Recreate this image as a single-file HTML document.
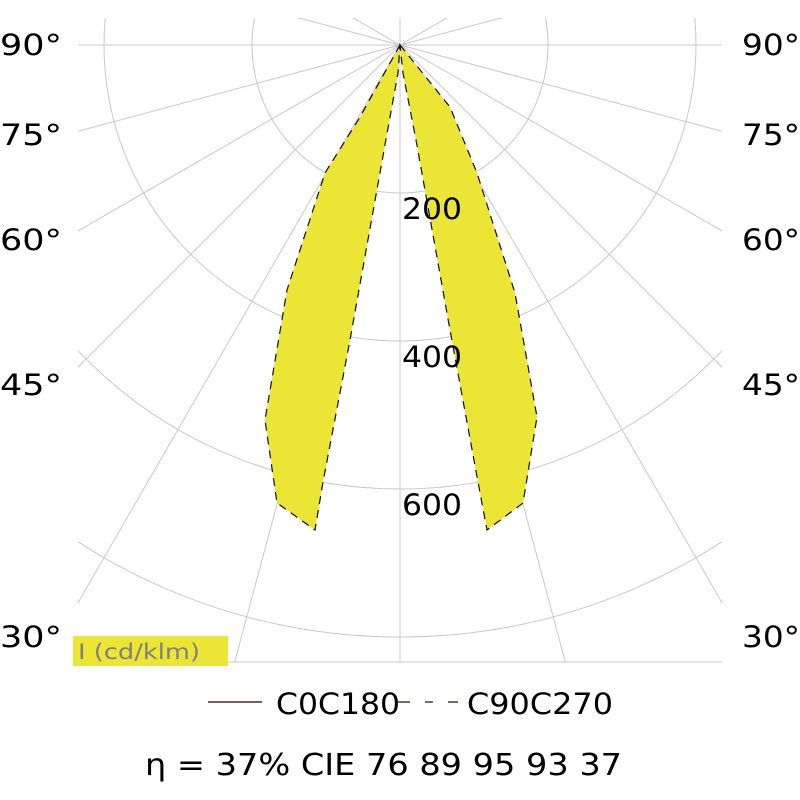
<!DOCTYPE html>
<html><head><meta charset="utf-8"><style>
html,body{margin:0;padding:0;background:#fff;width:800px;height:800px;overflow:hidden}
svg{display:block}
svg text{font-family:"DejaVu Sans","Liberation Sans",sans-serif}
</style></head><body>
<svg width="800" height="800" viewBox="0 0 800 800">
<defs><clipPath id="c"><rect x="78" y="18" width="644" height="644"/></clipPath></defs>
<g clip-path="url(#c)" stroke="#c8c8c8" stroke-width="1" fill="none">
<circle cx="400" cy="45" r="148"/>
<circle cx="400" cy="45" r="296"/>
<circle cx="400" cy="45" r="444"/>
<circle cx="400" cy="45" r="592"/>
<circle cx="400" cy="45" r="740"/>
<g id="rl">
<line x1="400" y1="45" x2="400" y2="945"/>
<line x1="400" y1="45" x2="632.9" y2="914.3"/>
<line x1="400" y1="45" x2="850" y2="824.4"/>
<line x1="400" y1="45" x2="1036.4" y2="681.4"/>
<line x1="400" y1="45" x2="1179.4" y2="495"/>
<line x1="400" y1="45" x2="1269.3" y2="277.9"/>
<line x1="400" y1="45" x2="1300" y2="45"/>
<line x1="400" y1="45" x2="1269.3" y2="-187.9"/>
<line x1="400" y1="45" x2="1179.4" y2="-405"/>
</g>
<use href="#rl" transform="translate(800 0) scale(-1 1)"/>
<line x1="400" y1="45" x2="400" y2="-900"/>
</g>
<line x1="78" y1="662" x2="722" y2="662" stroke="#c8c8c8"/>
<g fill="#ebe535" stroke="#111" stroke-width="1.2" stroke-dasharray="8,6">
<polygon points="400,45 360,117 325,173 287,290 265,420 277,503 315,530 323,482 350,340 388,128 398,73"/>
<polygon points="400,45 450,107 477,173 515,293 537,417 523,503 487,530 478,482 450,330 416,140 403,73"/>
</g>
<g font-size="29" fill="#000">
<text x="402" y="219" textLength="60" lengthAdjust="spacingAndGlyphs">200</text>
<text x="402" y="367" textLength="60" lengthAdjust="spacingAndGlyphs">400</text>
<text x="402" y="515" textLength="60" lengthAdjust="spacingAndGlyphs">600</text>
<g>
<text x="0" y="55" textLength="62" lengthAdjust="spacingAndGlyphs">90°</text>
<text x="0" y="145" textLength="62" lengthAdjust="spacingAndGlyphs">75°</text>
<text x="0" y="250" textLength="62" lengthAdjust="spacingAndGlyphs">60°</text>
<text x="0" y="395" textLength="62" lengthAdjust="spacingAndGlyphs">45°</text>
<text x="0" y="647" textLength="62" lengthAdjust="spacingAndGlyphs">30°</text>
<text x="742" y="55" textLength="58" lengthAdjust="spacingAndGlyphs">90°</text>
<text x="742" y="145" textLength="58" lengthAdjust="spacingAndGlyphs">75°</text>
<text x="742" y="250" textLength="58" lengthAdjust="spacingAndGlyphs">60°</text>
<text x="742" y="395" textLength="58" lengthAdjust="spacingAndGlyphs">45°</text>
<text x="742" y="647" textLength="58" lengthAdjust="spacingAndGlyphs">30°</text>
</g>
</g>
<rect x="73" y="636" width="155" height="30" fill="#ebe535"/>
<text x="78" y="659" font-size="21" fill="#808080" textLength="122" lengthAdjust="spacingAndGlyphs">I (cd/klm)</text>
<line x1="208" y1="702" x2="262" y2="702" stroke="#300" stroke-width="1.2"/>
<text x="276" y="714" font-size="29" textLength="124" lengthAdjust="spacingAndGlyphs">C0C180</text>
<line x1="398" y1="702" x2="410" y2="702" stroke="#300" stroke-width="1.2"/>
<line x1="425" y1="702" x2="433" y2="702" stroke="#300" stroke-width="1.2"/>
<line x1="448" y1="702" x2="458" y2="702" stroke="#300" stroke-width="1.2"/>
<text x="467" y="714" font-size="29" textLength="146" lengthAdjust="spacingAndGlyphs">C90C270</text>
<text x="145" y="775" font-size="30" textLength="477" lengthAdjust="spacingAndGlyphs">η = 37% CIE 76 89 95 93 37</text>
</svg>
</body></html>
